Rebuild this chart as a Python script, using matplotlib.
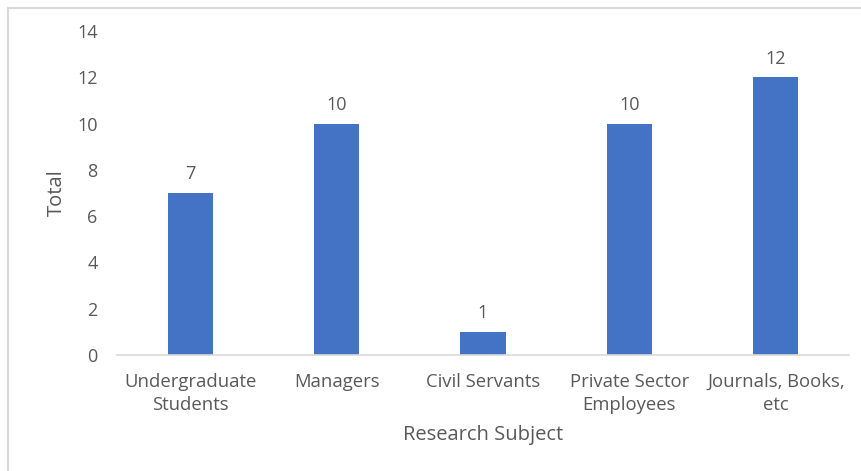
import matplotlib.pyplot as plt
from matplotlib.patches import Rectangle

categories = ["Undergraduate\nStudents", "Managers", "Civil Servants",
              "Private Sector\nEmployees", "Journals, Books,\netc"]
totals = [7, 10, 1, 10, 12]
y_ticks = [0, 2, 4, 6, 8, 10, 12, 14]

plt.rcParams['font.family'] = ['Open Sans', 'DejaVu Sans']
text_color = '#595959'

fig = plt.figure(figsize=(8.62, 4.71), dpi=100)
# light gray chart border
fig.patches.append(Rectangle((8/862, -0.1), 1.1, 1.1 - 8/471, transform=fig.transFigure,
                             fill=False, edgecolor='#d9d9d9', linewidth=1.5))
ax = fig.add_axes([117/862, 1-355/471, (849-117)/862, (355-31)/471])

x = range(len(categories))
bars = ax.bar(x, totals, width=0.31, color='#4472C4')
for b, v in zip(bars, totals):
    ax.annotate(str(v), (b.get_x() + b.get_width()/2, v), xytext=(0, 7),
                textcoords='offset points', ha='center', va='bottom',
                fontsize=13, color=text_color)

ax.set_xlim(-0.5, len(categories) - 0.5)
ax.set_ylim(0, 14)
ax.set_yticks(y_ticks)
ax.set_xticks(list(x))
ax.set_xticklabels(categories, linespacing=1.35)
ax.tick_params(axis='y', length=0, pad=14, labelsize=13, labelcolor=text_color)
ax.tick_params(axis='x', length=0, pad=13, labelsize=13.3, labelcolor=text_color)
for s in ['top', 'right', 'left']:
    ax.spines[s].set_visible(False)
ax.spines['bottom'].set_color('#d9d9d9')
ax.spines['bottom'].set_linewidth(1.2)

ax.set_xlabel("Research Subject", fontsize=14.5, color=text_color, labelpad=8)
ax.set_ylabel("Total", fontsize=14.5, color=text_color, labelpad=7)

fig.savefig("out.png", dpi=100)
